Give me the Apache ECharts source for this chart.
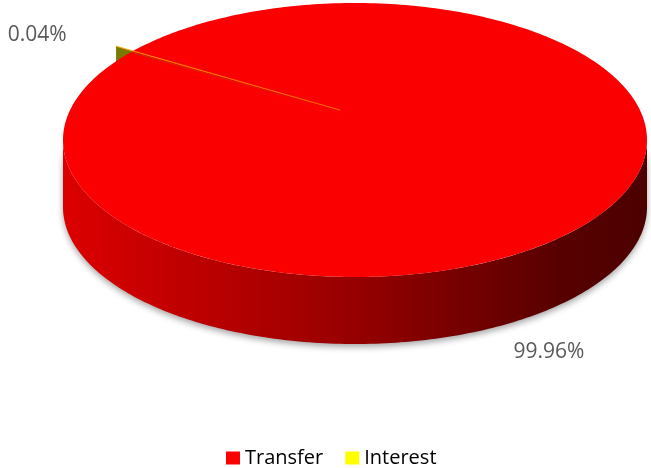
<!DOCTYPE html>
<html><head><meta charset="utf-8">
<script src="https://cdn.jsdelivr.net/npm/echarts@6/dist/echarts.min.js"></script>
<style>html,body{margin:0;padding:0;background:#fff}#c{width:651px;height:468px}</style>
</head><body><div id="c"></div>
<script>
// ---- data ----
const categories = ['Transfer', 'Interest'];
const shares = [99.96, 0.04];

// ---- styles / layout ----
const legendColors = ['#FF0000', '#FFFF00'];
const topColors = ['#FA0000', '#FFFF00'];
const G = { cx: 355, cy: 140, rx: 292, ry: 137, depth: 67, apexDy: -24, start: 310 };
const explode = [0, 0.067];
const labelOffsets = [[-30, 57], [-94, -17]];
const labelOnBottom = [true, false];

const total = shares.reduce((a, b) => a + b, 0);

function pt(deg, k, dz, off) {
  const t = (deg - 90) * Math.PI / 180;
  return [G.cx + k * G.rx * Math.cos(t) + off[0], G.cy + k * G.ry * Math.sin(t) + dz + off[1]];
}
function arc(a0, a1, dz, off) {
  const pts = [];
  const n = Math.max(2, Math.ceil(Math.abs(a1 - a0)));
  for (let j = 0; j <= n; j++) pts.push(pt(a0 + (a1 - a0) * j / n, 1, dz, off));
  return pts;
}

function renderSlice(params, api) {
  const i = params.seriesIndex;
  const val = api.value(0);
  let cum = 0;
  for (let k = 0; k < i; k++) cum += shares[k];
  const a0 = G.start + 360 * cum / total;
  const a1 = a0 + 360 * val / total;
  const mid = (a0 + a1) / 2;
  const tm = (mid - 90) * Math.PI / 180;
  const e = explode[i];
  const off = [e * G.rx * Math.cos(tm), e * G.ry * Math.sin(tm)];
  const apex = [G.cx + off[0], G.cy + G.apexDy + off[1]];
  const children = [];

  // front side wall (visible where angle in [90,270] mod 360)
  for (let k = -1; k <= 2; k++) {
    const s = Math.max(a0, 90 + 360 * k), t = Math.min(a1, 270 + 360 * k);
    if (t - s > 0.5) {
      const top = arc(s, t, 0, off);
      const bot = arc(s, t, G.depth, off).reverse();
      children.push({
        type: 'polygon', z2: 1,
        shape: { points: top.concat(bot) },
        style: {
          fill: new echarts.graphic.LinearGradient(0, 0, 1, 0, [
            { offset: 0, color: '#DC0000' },
            { offset: 0.5, color: '#960000' },
            { offset: 0.85, color: '#580000' },
            { offset: 1, color: '#4C0000' }
          ]),
          shadowBlur: 6, shadowColor: 'rgba(0,0,0,0.35)', shadowOffsetY: 3
        }
      });
    }
  }

  if (e > 0) {
    // radial cut face of the exploded sliver
    const outer = pt(mid, 1, 0, off);
    children.push({
      type: 'polygon', z2: 0,
      shape: { points: [apex, outer, [outer[0], outer[1] + G.depth], [apex[0], apex[1] + G.depth]] },
      style: { fill: '#7A7A00' }
    });
  }

  // top face
  children.push({
    type: 'polygon', z2: e > 0 ? 3 : 2,
    shape: { points: [apex].concat(arc(a0, a1, 0, off)) },
    style: e > 0
      ? { fill: topColors[i], stroke: 'rgba(255,150,0,0.55)', lineWidth: 0.8 }
      : { fill: topColors[i] }
  });

  // label
  const anchor = pt(mid, 1, labelOnBottom[i] ? G.depth : 0, [0, 0]);
  children.push({
    type: 'text', z2: 10,
    style: {
      text: (val / total * 100).toFixed(2) + '%',
      x: anchor[0] + labelOffsets[i][0], y: anchor[1] + labelOffsets[i][1],
      fill: '#595959', fontSize: 21, fontFamily: 'Open Sans',
      align: 'center', verticalAlign: 'middle'
    }
  });
  return { type: 'group', children };
}

const chart = echarts.init(document.getElementById('c'), null, { renderer: 'canvas' });
chart.setOption({
  animation: false,
  color: legendColors,
  legend: {
    data: categories, icon: 'rect', itemWidth: 14, itemHeight: 13, itemGap: 22,
    left: 226, top: 448, padding: 0,
    textStyle: { fontSize: 20, fontFamily: 'Open Sans', color: '#000', lineHeight: 20 }
  },
  series: categories.map((name, i) => ({
    type: 'custom', name, coordinateSystem: 'none',
    itemStyle: { color: legendColors[i] },
    renderItem: renderSlice,
    data: [shares[i]]
  }))
});
</script></body></html>
